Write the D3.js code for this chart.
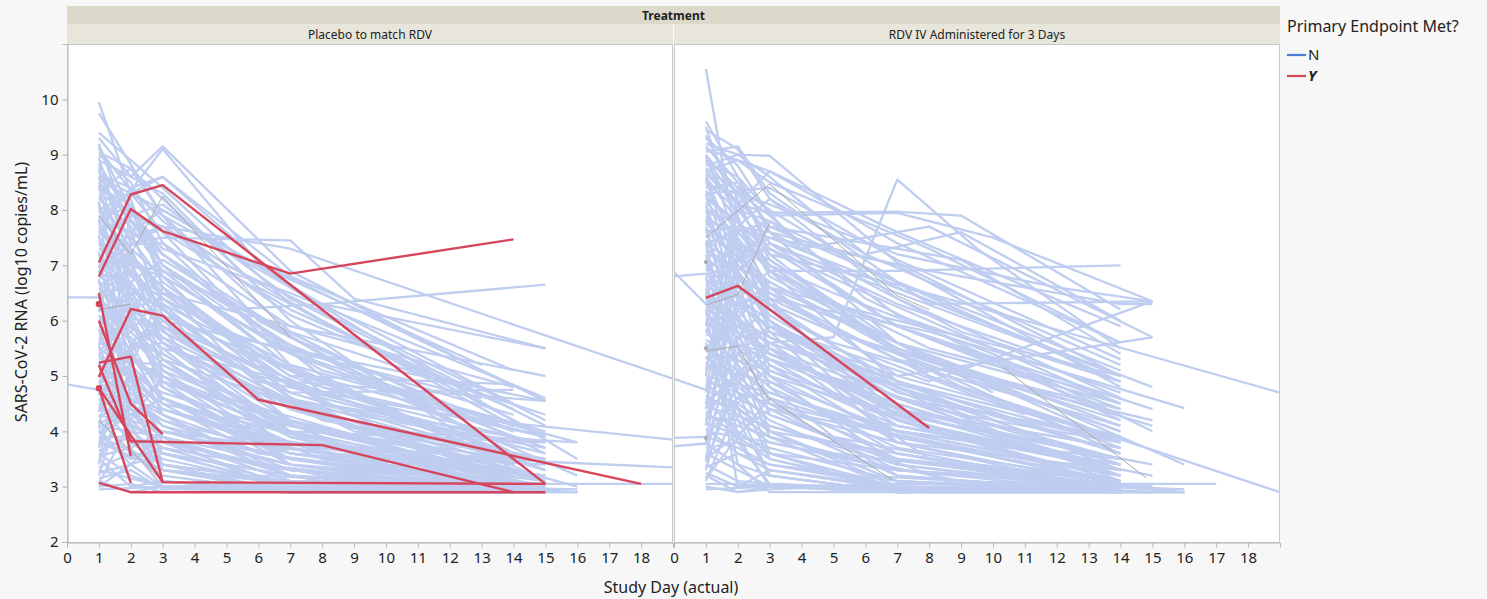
<!DOCTYPE html>
<html lang="en">
<head>
<meta charset="UTF-8">
<title>SARS-CoV-2 RNA by Study Day</title>
<style>
  body { margin: 0; background: #f7f7f7; }
  text { font-family: "Noto Sans", "Open Sans", sans-serif; fill: #222; }
</style>
</head>
<body>
<div id="chart"></div>
<script src="https://cdn.jsdelivr.net/npm/d3@7"></script>
<script>

// ---- data (day, log10 copies/mL pairs, flattened) ----
var panelNames = ["Placebo to match RDV", "RDV IV Administered for 3 Days"];
var xTickValues = [0,1,2,3,4,5,6,7,8,9,10,11,12,13,14,15,16,17,18];
var yTickValues = [2,3,4,5,6,7,8,9,10];

var placeboN = [
  [1,9.95,2,8.3,3,7.6,7,5.2,14,3.4],
  [1,9.75,3,7.9,6,6.0,14,3.6],
  [1,9.3,2,8.6,3,9.15,7,6.9,14,4.8],
  [1,9.1,2,8.35,3,9.1,6,7.05,15,4.55],
  [1,8.9,2,8.6,3,8.3,7,6.0,14,3.3],
  [1,8.8,2,8.0,3,7.2,8,5.0,15,3.1],
  [1,8.7,2,7.4,3,7.5,7,7.45,9,6.4,15,5.5],
  [1,8.6,3,8.0,8,6.3,15,6.65],
  [1,8.5,2,7.9,3,7.7,7,7.3,19,4.95],
  [1,8.4,2,8.1,3,7.0,5,6.2,8,6.3,15,5.5],
  [1,8.3,3,7.6,7,6.2,14,4.4],
  [1,8.2,2,7.7,3,6.9,6,5.6,15,4.55],
  [1,8.1,2,6.8,3,6.5,8,4.5,15,3.8],
  [1,8.0,2,7.2,5,5.4,10,4.0,16,3.8],
  [1,7.9,3,6.4,7,4.7,14,3.5],
  [1,7.8,2,7.6,3,7.2,7,5.5,14,4.3],
  [1,7.7,2,6.9,4,5.6,8,4.3,15,3.5],
  [1,7.6,2,7.1,3,6.6,7,5.1,15,3.3],
  [1,7.5,3,6.2,6,4.9,13,4.2,19,3.85],
  [1,7.4,2,6.6,3,6.0,7,4.2,14,3.1],
  [1,7.3,2,7.0,3,6.8,8,5.1,15,4.0],
  [1,7.2,2,6.3,3,5.7,7,4.0,14,3.0],
  [1,7.1,3,6.9,7,5.8,15,4.3],
  [1,7.0,2,6.5,4,5.2,9,4.1,16,3.0],
  [1,6.9,2,5.9,3,5.3,7,3.9,14,3.0],
  [1,6.8,2,6.4,3,6.3,8,4.8,15,3.9],
  [1,6.7,3,5.6,7,4.4,14,3.2],
  [1,6.6,2,6.1,3,5.0,6,3.9,14,2.9],
  [1,6.5,2,6.6,3,6.2,7,4.6,15,3.3],
  [-1,6.42,1,6.42,2,5.8,3,5.2,7,3.9,14,3.0],
  [-1,4.95,1,4.75,2,4.4,3,3.9,7,3.2,14,2.9],
  [1,6.3,2,5.6,3,5.4,7,4.1,14,3.5],
  [1,6.2,3,5.9,6,4.7,14,3.8],
  [1,6.1,2,5.2,3,4.6,7,3.5,14,2.9],
  [1,6.0,2,5.7,3,5.1,8,3.9,15,3.0],
  [1,5.9,3,4.8,7,3.6,14,3.0],
  [1,5.8,2,5.5,3,5.6,7,4.5,15,3.7],
  [1,5.7,2,4.9,3,4.3,6,3.4,14,2.9],
  [1,5.6,3,5.0,7,3.9,15,3.0],
  [1,5.5,2,5.1,3,4.6,8,3.6,15,2.9],
  [1,5.4,2,4.5,3,4.1,7,3.2,14,2.9],
  [1,5.3,3,5.2,7,4.2,14,3.3],
  [1,5.2,2,4.8,3,3.9,6,3.1,14,2.9],
  [1,5.1,2,5.0,3,4.4,7,3.7,15,3.1],
  [1,5.0,3,4.2,7,3.3,14,2.9],
  [1,4.9,2,4.3,3,4.6,8,3.5,15,3.0],
  [1,4.8,2,4.0,3,3.6,7,3.0,14,2.9],
  [1,4.7,3,4.4,7,3.8,15,3.45,19,3.35],
  [1,4.6,2,4.2,3,3.7,6,3.2,14,3.0],
  [1,4.5,2,3.8,3,3.4,7,2.9,15,2.9],
  [1,4.4,3,4.0,7,3.4,14,3.0],
  [1,4.3,2,4.1,3,3.8,8,3.2,16,2.9],
  [1,4.2,2,3.6,3,3.2,7,2.9,14,2.9],
  [1,4.1,3,3.9,7,3.1,14,2.9],
  [1,4.0,2,3.4,3,3.0,7,2.9,15,2.9],
  [1,3.9,2,3.9,3,3.5,7,3.0,14,2.9],
  [1,3.8,3,3.3,8,3.0,15,3.0],
  [1,3.6,2,3.2,3,3.0,7,2.9,14,2.9],
  [1,3.5,2,3.0,3,3.1,8,2.9,15,2.9],
  [1,3.3,3,3.0,7,3.0,14,3.0],
  [1,3.1,2,2.9,3,3.0,7,2.9,15,2.9,16,2.9],
  [1,3.0,2,3.05,3,2.9,7,2.95,14,2.9],
  [1,8.95,2,7.0,3,6.0,6,4.6,15,3.1],
  [1,9.05,2,8.75,3,7.9,7,5.8,14,3.6],
  [1,8.55,2,8.2,3,6.6,7,4.8,14,3.8],
  [1,8.25,2,7.3,3,6.1,5,5.0,14,3.0],
  [1,7.95,2,8.0,3,7.3,7,6.5,15,4.6],
  [1,7.65,2,7.8,3,7.0,8,5.2,16,3.2],
  [1,7.35,3,7.4,7,5.9,15,5.0],
  [1,6.95,2,7.2,3,6.5,7,5.0,14,4.85],
  [1,6.65,2,6.9,3,5.8,7,4.7,14,4.75],
  [1,6.35,2,6.0,3,4.9,7,3.4,12,3.0],
  [1,6.05,3,6.4,7,5.2,16,3.8],
  [1,5.75,2,5.9,3,5.5,7,4.9,15,4.55],
  [1,5.45,2,6.0,3,4.8,7,3.8,15,3.2],
  [1,5.15,2,5.4,3,4.9,7,4.0,15,3.8],
  [1,4.85,2,5.2,3,4.6,6,3.9,14,3.2],
  [1,4.55,2,4.7,3,4.1,7,3.5,14,3.1],
  [1,4.25,2,4.6,3,3.3,7,3.1,14,3.0],
  [1,3.95,2,4.3,3,3.9,7,3.4,15,3.05],
  [1,3.65,2,3.9,3,3.6,8,3.1,15,2.95],
  [1,3.35,2,3.6,3,3.3,7,2.9,16,2.9],
  [1,3.15,2,3.3,3,2.95,7,3.0,14,2.95],
  [1,8.45,2,6.2,3,5.3,7,3.7,14,3.0],
  [1,8.15,2,5.5,3,4.3,7,3.2,14,2.9],
  [1,7.85,2,5.0,3,3.8,7,3.0,14,2.9],
  [1,7.55,2,4.6,3,3.4,8,3.0,15,2.9],
  [1,7.25,2,4.1,3,3.1,7,2.9,15,2.95],
  [1,6.75,2,3.7,3,3.0,7,2.9,14,2.9],
  [1,9.2,2,7.6,3,6.3,7,4.4,14,3.3],
  [1,8.35,2,8.75,3,8.2,6,6.6,14,4.2],
  [1,3.05,2,4.2,3,5.0,7,4.1,14,3.2],
  [1,3.2,2,5.1,3,4.4,7,3.6,15,3.0],
  [1,3.4,2,6.4,3,5.6,7,4.2,14,3.0],
  [1,3.7,3,6.6,7,5.0,15,3.4],
  [1,4.05,2,7.3,3,6.8,7,5.4,15,3.7],
  [1,3.9,3,3.4,7,3.1,15,3.05,19,3.05],
  [1,9.0,2,8.5,3,7.4,6,5.8,14,3.9],
  [1,8.85,2,7.8,3,7.0,8,4.7,14,3.6],
  [1,8.65,2,8.4,3,7.8,5,7.0,15,4.2],
  [1,8.45,3,7.2,9,5.0,14,4.0],
  [1,8.05,2,7.5,3,6.7,6,5.4,14,3.4],
  [1,7.75,2,7.0,3,6.2,8,4.6,15,3.6],
  [1,7.45,2,6.8,3,6.4,5,5.8,14,4.1],
  [1,7.15,3,6.0,10,4.0,14,3.4],
  [1,6.85,2,6.7,3,5.9,6,5.0,14,3.9],
  [1,6.55,2,6.3,3,5.7,9,4.0,15,3.5],
  [1,6.25,3,5.5,5,4.6,14,3.1],
  [1,5.95,2,6.2,3,5.8,8,4.2,14,3.6],
  [1,5.65,2,5.3,3,4.9,6,4.2,14,3.4],
  [1,5.35,3,4.7,10,3.4,14,3.1],
  [1,5.05,2,4.6,3,4.3,5,3.9,15,3.2],
  [1,4.75,2,4.9,3,4.5,9,3.7,14,3.3],
  [1,4.45,3,3.8,7,3.3,14,3.0],
  [1,4.15,2,4.4,3,4.2,7,3.6,15,3.2],
  [1,3.85,2,3.5,3,3.7,7,3.3,14,3.0],
  [1,3.55,2,3.7,3,4.0,7,3.5,14,3.1],
  [1,3.25,2,3.4,3,3.6,7,3.2,15,3.0],
  [1,9.15,2,8.0,3,6.8,7,4.6,14,3.1],
  [1,8.75,2,7.1,3,5.6,7,3.9,14,3.0],
  [1,8.6,2,6.6,3,5.1,7,3.6,15,3.0],
  [1,8.1,2,6.0,3,4.8,7,3.5,14,3.0],
  [1,7.8,2,6.4,3,5.4,7,4.0,14,3.2],
  [1,7.0,2,5.6,3,4.6,7,3.4,14,2.9],
  [1,6.7,2,5.4,3,4.5,6,3.6,14,3.0],
  [1,6.45,2,4.9,3,3.9,7,3.1,14,2.9],
  [1,5.85,2,4.4,3,3.6,7,3.0,15,2.9],
  [1,5.55,2,4.1,3,3.3,7,2.95,14,2.9],
  [1,5.25,2,3.9,3,3.1,7,2.9,14,2.9],
  [1,3.45,2,4.8,3,5.3,7,4.5,14,3.4],
  [1,3.75,2,5.6,3,6.1,7,5.1,15,3.9],
  [1,4.35,2,6.7,3,7.1,7,5.7,14,4.0],
  [1,4.65,2,7.5,3,7.7,7,6.1,14,4.4],
  [1,5.55,2,7.9,3,8.1,7,6.4,15,4.1],
  [1,6.15,2,8.3,3,7.9,7,6.6,14,4.5],
  [1,2.95,3,3.0,8,3.05,16,2.95],
  [1,3.0,2,3.4,3,4.0,8,3.6,15,3.4],
  [1,4.9,2,5.5,3,6.0,6,5.6,13,4.6],
  [1,5.4,2,5.8,3,6.5,7,5.9,14,4.8],
  [1,6.9,2,7.6,3,8.0,6,7.0,13,5.2],
  [1,7.6,2,8.4,3,8.6,7,6.8,14,5.1],
  [1,9.4,2,8.9,3,8.4,7,6.3,14,4.1],
  [1,8.0,3,8.6,7,6.6,16,3.5],
  [1,7.0,3,7.7,8,6.0,15,3.9],
  [1,6.0,3,6.9,8,5.5,15,3.6],
  [1,5.0,3,5.9,8,4.7,15,3.3],
  [1,4.0,3,4.9,8,4.0,15,3.1]
];

var placeboY = [
  [1,7.05,2,8.28,3,8.45,15,3.05],
  [1,6.8,2,8.02,3,7.62,7,6.85,14,7.47],
  [1,4.98,2,6.21,3,6.09,6,4.57,18,3.05],
  [1,5.24,2,5.35,3,3.08,15,3.05],
  [1,6.5,2,3.55],
  [1,6.0,2,4.5,3,3.95],
  [1,4.78,3,3.08],
  [1,4.78,2,3.07],
  [1,5.2,2,3.82,8,3.75,14,2.9],
  [1,3.07,2,2.9,15,2.9]
];
var placeboYDots = [[1,6.3],[1,4.78]];

var placeboOther = [
  [1,7.9,2,7.2,3,8.25,7,5.7],
  [1,6.2,2,6.3],
  [1,4.2,3,3.1]
];

var rdvN = [
  [1,10.55,2,7.3,3,6.2,7,4.5,14,3.2],
  [1,9.6,2,8.6,3,7.6,7,5.6,14,3.8],
  [1,9.45,2,9.1,3,8.2,7,6.4,14,4.6],
  [1,9.2,2,9.0,3,8.98,7,7.05,14,5.0],
  [1,9.05,2,9.15,3,8.3,8,6.3,15,6.35],
  [1,8.95,2,8.4,3,7.4,7,5.9,14,4.4],
  [1,8.85,2,8.6,4,7.3,8,7.7,15,5.7],
  [1,8.75,3,7.9,7,7.95,10,7.5,15,6.35],
  [1,8.65,2,8.1,3,7.95,7,7.97,9,7.9,14,6.2],
  [1,6.2,3,5.6,5,5.7,7,8.55,9.5,7.3,14,5.5],
  [1,8.45,2,8.3,3,7.4,7,6.5,14,5.0],
  [1,8.35,2,7.6,3,7.0,7,5.4,14,3.6],
  [1,8.25,3,7.3,7,5.9,15,4.4],
  [1,8.15,2,7.5,3,6.6,7,5.0,14,3.9],
  [1,8.05,3,6.9,7,6.9,14,7.0],
  [1,7.95,2,7.8,3,7.2,7,6.65,19,4.7],
  [1,7.85,2,7.0,3,6.3,7,4.8,14,3.4],
  [1,7.75,2,7.3,3,6.4,8,5.8,16,4.42],
  [1,7.65,3,7.1,7,5.6,14,4.1],
  [1,7.55,2,6.8,3,6.0,7,4.4,14,3.2],
  [1,7.45,2,6.5,3,5.8,7,5.0,15,5.7],
  [1,7.35,2,7.1,3,6.6,7,6.0,14,5.0],
  [1,7.25,3,6.4,7,5.3,15,4.2],
  [1,7.15,2,6.6,3,6.2,7,4.9,14,3.6],
  [1,7.05,2,6.9,3,5.9,7,4.6,14,3.5],
  [1,6.95,3,6.5,8,5.0,19,2.9],
  [1,6.85,2,6.2,3,5.5,7,4.2,14,3.1],
  [-1,6.7,0,6.88,1,6.3,2,6.0,3,5.4,7,4.5,14,3.3],
  [-1,6.95,0,6.8,1,6.85,2,6.4,3,6.0,7,4.7,14,3.8],
  [1,6.75,2,6.3,3,5.9,8,4.9,15,6.35],
  [1,6.65,3,5.9,7,4.3,14,3.0],
  [1,6.55,2,6.0,3,5.6,7,4.1,14,3.4],
  [1,6.45,2,6.1,3,5.2,7,3.8,14,3.0],
  [1,6.35,3,5.7,7,4.6,14,3.9],
  [1,6.25,2,5.8,3,5.3,7,4.0,14,3.2],
  [1,6.15,2,5.4,3,4.9,7,3.6,14,2.9],
  [1,6.05,3,5.5,7,4.3,15,3.4],
  [1,5.95,2,5.6,3,5.0,7,3.9,14,3.05],
  [1,5.85,2,5.2,3,4.6,7,3.5,14,2.9],
  [1,5.75,3,5.4,7,4.4,14,3.7],
  [1,5.65,2,5.3,3,4.8,7,3.7,14,3.1],
  [1,5.55,2,4.9,3,4.4,7,3.3,14,2.9],
  [1,5.45,3,5.1,7,4.1,15,3.2],
  [1,5.35,2,5.0,3,4.5,7,3.6,14,3.0],
  [1,5.25,2,4.7,3,4.2,7,3.2,14,2.9],
  [1,5.15,3,4.9,7,4.0,14,3.5],
  [-1,5.0,0,4.95,1,4.75,2,4.5,3,4.1,7,3.4,14,2.95],
  [1,4.95,2,4.6,3,4.3,7,3.5,14,3.0],
  [1,4.85,3,4.0,7,3.1,14,2.9],
  [1,4.65,2,4.3,3,3.9,7,3.3,15,3.0],
  [1,4.55,2,4.0,3,3.6,7,3.0,14,2.9],
  [1,4.45,3,4.1,7,3.5,14,3.1],
  [1,4.35,2,3.9,3,3.5,7,3.0,14,2.9],
  [1,4.25,2,4.2,3,3.8,7,3.3,16,2.9],
  [1,4.15,3,3.7,7,3.1,14,2.9],
  [1,4.05,2,3.6,3,3.3,7,3.0,15,2.9],
  [-1,3.85,0,3.88,1,3.9,2,3.7,3,3.4,7,3.0,14,2.9],
  [-1,3.7,0,3.73,1,3.78,2,3.4,3,3.2,7,2.9,14,2.95],
  [1,3.6,2,3.3,3,3.0,7,2.9,14,2.9],
  [1,3.4,2,3.1,3,3.05,7,2.95,15,2.9],
  [1,3.2,2,2.9,3,3.0,7,3.0,14,3.0],
  [1,3.05,2,3.05,3,3.0,8,2.9,16,2.9],
  [1,3.0,2,2.9,3,2.95,7,3.05,17,3.05],
  [1,9.35,2,8.2,3,6.9,7,4.9,14,3.3],
  [1,8.9,2,7.9,3,6.3,7,4.2,14,3.0],
  [1,8.6,2,7.2,3,5.8,7,3.8,14,2.9],
  [1,8.3,2,6.7,3,5.0,7,3.4,14,2.9],
  [1,8.0,2,6.0,3,4.5,7,3.2,14,2.9],
  [1,7.7,2,5.5,3,4.0,7,3.0,15,2.9],
  [1,7.4,2,5.0,3,3.6,7,2.9,14,2.9],
  [1,7.1,2,4.4,3,3.2,7,2.9,14,2.95],
  [1,6.8,2,3.9,3,3.0,7,2.9,15,3.0],
  [1,6.5,2,3.4,3,2.9,8,2.9,16,2.9],
  [1,6.2,2,3.0,3,3.05,7,2.95,14,2.9],
  [1,3.1,2,4.5,3,5.2,7,4.2,14,3.3],
  [1,3.3,2,5.4,3,5.9,7,4.8,14,3.6],
  [1,3.5,2,6.2,3,6.7,7,5.5,14,4.0],
  [1,3.8,2,7.1,3,7.3,7,5.9,14,4.3],
  [1,4.1,2,6.8,3,6.0,7,4.6,14,3.2],
  [1,4.4,2,7.6,3,6.9,7,5.5,15,4.1],
  [1,4.7,2,8.0,3,7.8,7,6.1,14,4.7],
  [1,5.0,2,8.4,3,8.0,7,6.6,14,5.0],
  [1,8.8,2,9.0,3,8.6,6,7.2,9,7.6,14,6.0],
  [1,9.0,2,8.3,3,8.1,7,7.2,12,6.6,15,6.35],
  [1,5.8,2,6.9,3,7.4,7,6.3,14,4.9],
  [1,5.3,2,6.3,3,6.5,7,5.6,14,4.5],
  [1,4.8,2,5.7,3,5.8,7,4.9,14,3.9],
  [1,4.3,2,5.0,3,5.3,7,4.4,14,3.5],
  [1,3.9,2,4.6,3,4.7,7,3.9,14,3.1],
  [1,8.7,2,8.9,3,8.5,8,7.3,14,5.6],
  [1,9.1,3,8.7,7,7.6,14,5.9],
  [1,8.4,2,8.5,3,7.7,9,7.1,14,5.4],
  [1,7.8,3,7.5,8,6.9,14,6.3,15,6.3],
  [1,7.6,2,7.7,3,7.6,7,7.0,14,4.8],
  [1,9.3,2,8.8,3,7.9,6,6.4,14,4.2],
  [1,9.15,2,8.5,3,7.2,8,5.0,14,3.7],
  [1,8.95,2,8.1,3,7.1,5,6.3,14,4.5],
  [1,8.7,3,7.6,9,5.8,14,4.9],
  [1,8.5,2,8.0,3,7.3,6,6.5,14,4.5],
  [1,8.2,2,7.8,3,6.8,8,5.3,14,4.3],
  [1,7.9,2,7.4,3,6.5,5,5.8,14,4.0],
  [1,7.6,3,6.7,9,4.8,14,3.8],
  [1,7.3,2,6.9,3,6.1,6,5.1,14,3.6],
  [1,7.0,2,6.4,3,5.7,10,4.1,14,3.4],
  [1,6.7,3,6.2,5,5.6,14,4.1],
  [1,6.4,2,5.9,3,5.4,8,4.2,14,3.5],
  [1,6.1,2,5.7,3,5.1,6,4.5,14,3.3],
  [1,5.8,3,5.3,9,4.3,14,3.8],
  [1,5.5,2,5.1,3,4.7,5,4.3,14,3.4],
  [1,5.2,2,4.8,3,4.4,10,3.6,14,3.2],
  [1,4.9,3,4.5,6,4.1,14,3.4],
  [1,4.6,2,4.4,3,4.0,8,3.5,14,3.1],
  [1,4.3,2,4.1,3,3.9,5,3.6,14,3.0],
  [1,4.0,3,3.8,9,3.1,14,3.0],
  [1,3.7,2,3.8,3,3.6,7,3.3,14,3.05],
  [1,3.35,2,3.6,3,3.4,7,3.1,14,2.95],
  [1,9.5,2,7.8,3,6.4,5,5.2,14,3.1],
  [1,9.0,2,7.4,3,6.0,6,4.4,14,3.0],
  [1,8.55,2,6.9,3,5.5,8,3.5,14,2.9],
  [1,8.1,2,6.4,3,4.8,5,3.9,14,2.9],
  [1,7.65,2,5.8,3,4.3,9,3.0,14,2.9],
  [1,7.2,2,5.2,3,3.9,6,3.2,15,2.9],
  [1,6.6,2,4.7,3,3.5,7,2.95,14,2.9],
  [1,6.0,2,4.2,3,3.2,7,2.9,14,2.95],
  [1,5.6,2,3.8,3,3.05,7,2.9,16,2.9],
  [1,3.15,2,3.9,3,4.6,7,3.9,14,3.2],
  [1,3.45,2,4.9,3,5.5,9,4.2,14,3.7],
  [1,3.75,2,5.7,3,6.3,5,5.8,14,4.2],
  [1,4.2,2,6.4,3,6.9,8,5.5,14,4.6],
  [1,4.5,2,7.2,3,7.5,10,5.9,15,4.8],
  [1,5.1,2,7.7,3,8.2,6,7.2,14,5.2],
  [1,5.9,2,8.1,3,8.7,7,7.4,14,5.6],
  [1,6.5,3,7.7,5,7.2,14,4.9],
  [1,5.5,3,6.6,9,5.1,14,4.4],
  [1,4.5,3,5.6,6,5.0,14,3.8],
  [1,3.5,3,4.4,7,3.8,14,3.3],
  [1,8.3,3,8.4,7,7.1,14,5.3],
  [1,7.4,3,7.8,7,6.7,14,5.1],
  [1,6.9,2,7.4,3,7.0,5,6.5,10,5.4,15,4.0],
  [1,6.3,2,6.6,3,6.3,5,5.8,10,4.9,16,3.4],
  [1,2.95,3,3.0,7,3.05,14,3.0,16,2.95],
  [1,3.25,2,3.0,3,3.3,7,2.95,15,3.05],
  [1,7.8,2,7.0,3,6.6,6,5.4,11,4.3],
  [1,6.0,2,5.5,3,5.0,8,4.1,12,3.6],
  [1,5.0,3,4.7,7,4.0,13,3.3],
  [1,8.6,3,7.0,6,5.9,10,4.7]
];

var rdvY = [
  [1,6.41,2,6.63,8,4.06]
];
var rdvYDots = [];

var rdvOther = [
  [1,6.28,2,6.47,3,7.77],
  [1,5.45,2,5.54,2.9,4.62,6.85,3.12],
  [1,7.5,3,8.47,7,6.45,8,6.2],
  [10.3,5.16,14.8,3.16]
];
var rdvOtherDots = [[1,7.06],[1,5.5],[1,3.88]];

// ---- layout ----
var W = 1487, H = 599;
var plotTop = 44, plotBottom = 542;
var panelX = [[67, 673], [674, 1280]];

var colN = "#bfcdf0", colY = "#d6455a", colOther = "#a9a9a9";

var svg = d3.select("#chart").append("svg")
    .attr("width", W).attr("height", H);

var y = d3.scaleLinear().domain([2, 11]).range([plotBottom, plotTop]);

function pairs(a) {
  var p = [];
  for (var i = 0; i < a.length; i += 2) p.push([a[i], a[i + 1]]);
  return p;
}

var panelData = [
  {N: placeboN, Y: placeboY, other: placeboOther, yDots: placeboYDots, otherDots: []},
  {N: rdvN, Y: rdvY, other: rdvOther, yDots: rdvYDots, otherDots: rdvOtherDots}
];

// strips
svg.append("rect").attr("x", 67).attr("y", 6).attr("width", 1213).attr("height", 18)
  .attr("fill", "#dcd9ca");
svg.append("text").attr("x", 673.5).attr("y", 19.5).attr("text-anchor", "middle")
  .style("font-size", "12px").style("font-weight", "bold").text("Treatment");

panelData.forEach(function(pd, i) {
  var x0 = panelX[i][0], x1 = panelX[i][1];
  var x = d3.scaleLinear().domain([0, 19]).range([x0, x1]);

  svg.append("rect").attr("x", x0).attr("y", 24).attr("width", x1 - x0).attr("height", 20)
    .attr("fill", "#e8e6da");
  svg.append("text").attr("x", (x0 + x1) / 2).attr("y", 38.5).attr("text-anchor", "middle")
    .style("font-size", "12px").text(panelNames[i]);

  svg.append("rect").attr("x", x0).attr("y", plotTop).attr("width", x1 - x0)
    .attr("height", plotBottom - plotTop).attr("fill", "#fff");

  svg.append("clipPath").attr("id", "clip" + i)
    .append("rect").attr("x", x0).attr("y", plotTop).attr("width", x1 - x0)
    .attr("height", plotBottom - plotTop);

  var g = svg.append("g").attr("clip-path", "url(#clip" + i + ")");
  var line = d3.line().x(function(d) { return x(d[0]); }).y(function(d) { return y(d[1]); });

  g.selectAll(".lineN").data(pd.N).enter().append("path")
    .attr("class", "lineN")
    .attr("d", function(d) { return line(pairs(d)); })
    .attr("fill", "none").attr("stroke", colN).attr("stroke-width", 2.3)
    .attr("stroke-linejoin", "round");

  g.selectAll(".lineO").data(pd.other).enter().append("path")
    .attr("class", "lineO")
    .attr("d", function(d) { return line(pairs(d)); })
    .attr("fill", "none").attr("stroke", colOther).attr("stroke-width", 1);

  g.selectAll(".dotO").data(pd.otherDots).enter().append("circle")
    .attr("cx", function(d) { return x(d[0]); }).attr("cy", function(d) { return y(d[1]); })
    .attr("r", 2).attr("fill", colOther);

  g.selectAll(".lineY").data(pd.Y).enter().append("path")
    .attr("class", "lineY")
    .attr("d", function(d) { return line(pairs(d)); })
    .attr("fill", "none").attr("stroke", colY).attr("stroke-width", 2.4)
    .attr("stroke-linejoin", "round");

  g.selectAll(".dotY").data(pd.yDots).enter().append("circle")
    .attr("cx", function(d) { return x(d[0]); }).attr("cy", function(d) { return y(d[1]); })
    .attr("r", 3.2).attr("fill", colY);

  // frame
  svg.append("rect").attr("x", x0 + 0.5).attr("y", plotTop + 0.5)
    .attr("width", x1 - x0 - 1).attr("height", plotBottom - plotTop)
    .attr("fill", "none").attr("stroke", "#c8c8c8");

  // x axis
  var xa = svg.append("g").attr("transform", "translate(0," + (plotBottom + 0.5) + ")")
    .call(d3.axisBottom(x).tickValues(xTickValues).tickSize(5).tickPadding(5)
      .tickFormat(function(d) { return d; }));
  xa.select(".domain").attr("stroke", "#b4b4b4");
  xa.selectAll(".tick line").attr("stroke", "#b4b4b4");
  xa.selectAll("text").style("font-size", "15px").attr("fill", "#222")
    .style("font-family", "'Noto Sans', sans-serif");
});

// y axis
var ya = svg.append("g").attr("transform", "translate(" + 67.5 + ",0)")
  .call(d3.axisLeft(y).tickValues(yTickValues).tickSize(5).tickPadding(4));
ya.select(".domain").attr("stroke", "#b4b4b4");
ya.selectAll(".tick line").attr("stroke", "#b4b4b4");
ya.selectAll("text").style("font-size", "15px").attr("fill", "#222")
  .style("font-family", "'Noto Sans', sans-serif");

// axis titles
svg.append("text").attr("x", 671).attr("y", 593).attr("text-anchor", "middle")
  .style("font-size", "16px").text("Study Day (actual)");
svg.append("text").attr("transform", "translate(27,292) rotate(-90)")
  .attr("text-anchor", "middle").style("font-size", "16px")
  .text("SARS-CoV-2 RNA (log10 copies/mL)");

// legend
var lg = svg.append("g").attr("transform", "translate(1287,0)");
lg.append("text").attr("x", 0).attr("y", 32).style("font-size", "16px")
  .text("Primary Endpoint Met?");
var legendItems = [
  {label: "N", color: "#4e7ddc", y: 55, bold: false},
  {label: "Y", color: colY, y: 76, bold: true}
];
legendItems.forEach(function(it) {
  lg.append("line").attr("x1", 0).attr("x2", 19).attr("y1", it.y).attr("y2", it.y)
    .attr("stroke", it.color).attr("stroke-width", 2.2);
  lg.append("text").attr("x", 21).attr("y", it.y + 5).style("font-size", "15px")
    .style("font-weight", it.bold ? "bold" : "normal")
    .style("font-style", it.bold ? "italic" : "normal").text(it.label);
});
</script>
</body>
</html>
